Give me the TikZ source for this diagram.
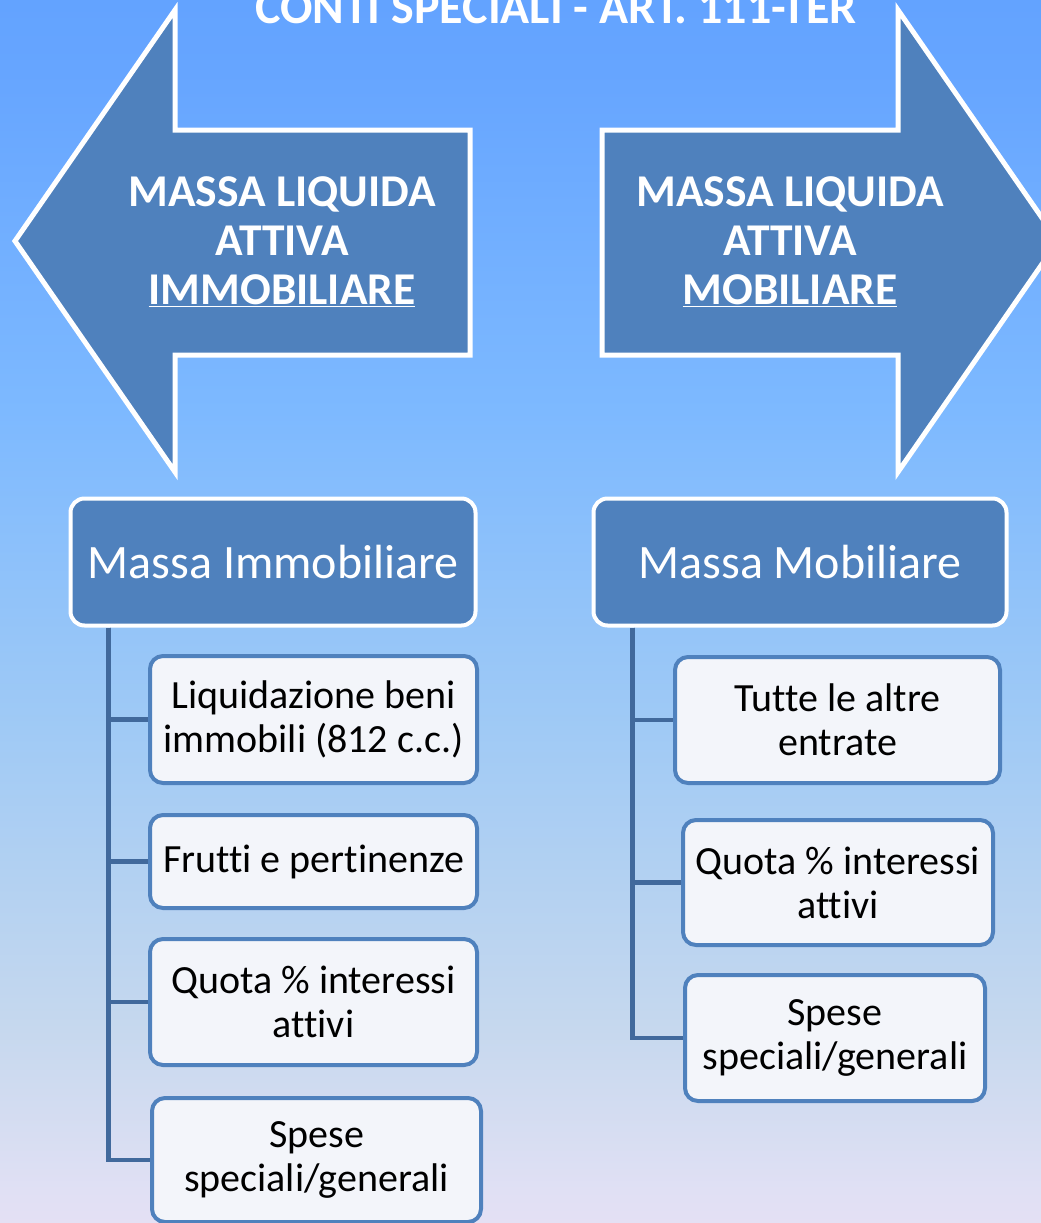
\documentclass[tikz,border=0pt]{standalone}
\usepackage{fontspec}
\setmainfont{Carlito}[Ligatures={NoCommon,NoContextual}]
\usepackage{tikz}
\usetikzlibrary{
  	positioning,
  	calc,
  	shapes
  }
\definecolor{accent}{HTML}{4F81BD}
\definecolor{treeblue}{HTML}{41699C}
\definecolor{leaffill}{HTML}{F3F5FA}
\pgfdeclareverticalshading{bgshade}{100bp}{%
  color(0bp)=(rgb,255:red,228;green,224;blue,244);
  color(25bp)=(rgb,255:red,228;green,224;blue,244);
  color(26.35bp)=(rgb,255:red,224;green,224;blue,244);
  color(32.9bp)=(rgb,255:red,198;green,216;blue,238);
  color(45.15bp)=(rgb,255:red,160;green,202;blue,245);
  color(58.2bp)=(rgb,255:red,125;green,185;blue,255);
  color(72.1bp)=(rgb,255:red,102;green,165;blue,255);
  color(75bp)=(rgb,255:red,99;green,163;blue,255);
  color(100bp)=(rgb,255:red,99;green,163;blue,255)}
\tikzstyle{arrowbox}=[fill=accent,draw=white,line width=5pt,line join=miter]
\tikzstyle{arrowtext}=[text=white,align=center,font=\fontsize{45.5}{49}\selectfont\bfseries]
\tikzstyle{massbox}=[fill=accent,draw=white,line width=4pt,rounded corners=14pt,text=white,font=\fontsize{48}{56}\selectfont]
\tikzstyle{leafbox}=[fill=leaffill,draw=accent,line width=4pt,rounded corners=13pt,align=center,font=\fontsize{40}{44}\selectfont]
\tikzstyle{branch}=[draw=treeblue,line width=4.5pt]

\begin{document}
\begin{tikzpicture}[x=1pt,y=-1pt]
  \useasboundingbox (0,0) rectangle (1041,1223);
  \shade[shading=bgshade] (0,0) rectangle (1041,1223);
  \node[arrowtext,font=\fontsize{48}{56}\selectfont\bfseries,anchor=base] (title) at (556,24) {CONTI SPECIALI - ART. 111-TER};
%
  \draw[arrowbox] (15,241) -- (175,10) -- (175,130) -- (470,130) --
     (470,355) -- (175,355) -- (175,472) -- cycle;
  \draw[arrowbox] (1058,241) -- (898,10) -- (898,130) -- (602,130) --
     (602,355) -- (898,355) -- (898,472) -- cycle;
  \node[arrowtext] (immtit) at (282,242) {MASSA LIQUIDA\\ATTIVA\\\underline{IMMOBILIARE}};
  \node[arrowtext] (mobtit) at (790,242) {MASSA LIQUIDA\\ATTIVA\\\underline{MOBILIARE}};
%
  \node[massbox,minimum width=405pt,minimum height=127pt] (imm) at (273,562) {Massa Immobiliare};
  \node[massbox,minimum width=413pt,minimum height=127pt] (mob) at (800,562) {Massa Mobiliare};
%
  \node[leafbox,minimum width=327pt,minimum height=127pt] (imm1) at (313.5,719.5) {Liquidazione beni\\immobili (812 c.c.)};
  \node[leafbox,minimum width=327pt,minimum height=93pt] (imm2) at (313.5,861.5) {Frutti e pertinenze};
  \node[leafbox,minimum width=327pt,minimum height=126pt] (imm3) at (313.5,1002) {Quota \% interessi\\attivi};
  \node[leafbox,minimum width=329pt,minimum height=124pt] (imm4) at (316.5,1160) {Spese\\speciali/generali};
%
  \node[leafbox,minimum width=325pt,minimum height=126pt] (mob1) at (837.5,720) {Tutte le altre\\entrate};
  \node[leafbox,minimum width=310pt,minimum height=125pt] (mob2) at (838,882.5) {Quota \% interessi\\attivi};
  \node[leafbox,minimum width=300pt,minimum height=126pt] (mob3) at (835,1038) {Spese\\speciali/generali};
%
  \foreach \c in {imm1,imm2,imm3,imm4}
    \draw[branch] ($(imm.south west)+(40,0)$) |- (\c.west);
  \foreach \c in {mob1,mob2,mob3}
    \draw[branch] ($(mob.south west)+(41,0)$) |- (\c.west);
\end{tikzpicture}
\end{document}
